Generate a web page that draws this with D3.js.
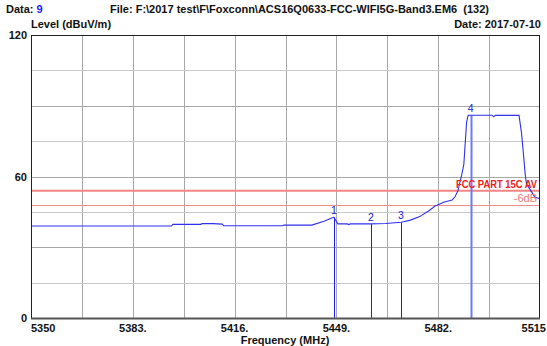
<!DOCTYPE html>
<html><head><meta charset="utf-8">
<script src="https://cdn.jsdelivr.net/npm/d3@7"></script>
<style>
body{margin:0;background:#fff;}
svg text{font-family:"Liberation Sans",Arial,sans-serif;font-weight:bold;font-size:11px;}
</style></head>
<body><svg id="c" width="547" height="346"></svg>
<script>
const traceFreq = [5350,5395.5,5396,5405,5405.5,5409,5412,5412.5,5431.5,5432,5441,5445,5447.5,5448.2,5449.5,5452.5,5453,5453.5,5460,5465,5470,5473,5476,5479,5481,5484,5486.5,5487.5,5488.4,5489.5,5490.3,5490.8,5491.2,5491.7,5499.5,5500,5500.5,5508.2,5509,5509.6,5510.2,5510.6,5512,5513.4,5515];
const traceLevel = [39.0,39.0,39.7,39.7,40.0,40.0,39.8,39.1,39.1,39.4,39.4,41.0,42.4,42.7,39.9,39.9,39.6,39.9,39.9,40.1,40.6,41.5,43.0,45.5,47.5,49.2,50.0,51.5,54,60,65,75,83,86.0,86.0,85.3,85.9,85.9,78.5,70,61,57,54,51.2,50.6];
const markerIds = ["1","2","3","4"];
const markerFreq = [5448.2,5460.2,5469.9,5492.5];
const markerLevel = [42.7,39.9,40.5,86.0];
const xTickLabels = ["5350","5383.","5416.","5449.","5482.","5515"];
const xTickValues = [5350,5383,5416,5449,5482,5515];
const xGridValues = d3.range(0,11).map(i=>5350+16.5*i);
const yTickLabels = ["120","60","0"];
const yTickValues = [120,60,0];
const yGridValues = d3.range(0,9).map(i=>i*15);
const limitNames = ["FCC PART 15C AV","-6dB"];
const limitValues = [54,48];

const svg = d3.select("#c");
const L=31, R=540, T=35, B=318;
const x = d3.scaleLinear().domain([5350,5515]).range([L,R]);
const y = d3.scaleLinear().domain([0,120]).range([B,T]);

// grid
svg.append("g").selectAll("line").data(xGridValues.slice(1,-1)).join("line")
  .attr("x1",d=>Math.round(x(d))+0.5).attr("x2",d=>Math.round(x(d))+0.5)
  .attr("y1",T).attr("y2",B).attr("stroke","#a8a8a8").attr("stroke-width",1);
svg.append("g").selectAll("line").data(yGridValues.slice(1,-1)).join("line")
  .attr("y1",d=>Math.round(y(d))+0.5).attr("y2",d=>Math.round(y(d))+0.5)
  .attr("x1",L).attr("x2",R).attr("stroke",(d,i)=>i%2?"#a8a8a8":"#c8c8c8").attr("stroke-width",1);

// limit lines
svg.append("line").attr("x1",L).attr("x2",R).attr("y1",y(limitValues[0])).attr("y2",y(limitValues[0]))
  .attr("stroke","#f38585").attr("stroke-width",2);
svg.append("line").attr("x1",L).attr("x2",R).attr("y1",Math.round(y(limitValues[1]))+0.5).attr("y2",Math.round(y(limitValues[1]))+0.5)
  .attr("stroke","#f08c8c").attr("stroke-width",1);

// marker lines
svg.append("g").selectAll("line").data(markerFreq).join("line")
  .attr("x1",d=>Math.round(x(d))+0.5).attr("x2",d=>Math.round(x(d))+0.5)
  .attr("y1",(d,i)=>y(markerLevel[i])).attr("y2",B)
  .attr("stroke",(d,i)=>i===3?"#6b78ff":"#1c1cf0").attr("stroke-width",(d,i)=>i===3?2:1);

// trace
const pts = traceFreq.map((f,i)=>[f,traceLevel[i]]);
svg.append("path").datum(pts)
  .attr("d",d3.line().x(d=>x(d[0])).y(d=>y(d[1])))
  .attr("fill","none").attr("stroke","#3030ee").attr("stroke-width",1.1);

// marker labels
svg.append("g").selectAll("text").data(markerIds).join("text")
  .attr("x",(d,i)=>x(markerFreq[i])).attr("y",(d,i)=>y(markerLevel[i])-3)
  .attr("text-anchor","middle").attr("fill","#2020d0")
  .style("font-weight","normal").style("font-size","10.5px").text(d=>d);

// limit labels
svg.append("text").attr("x",537).attr("y",y(limitValues[0])-3).attr("text-anchor","end")
  .attr("fill","#ee2020").style("font-size","11px")
  .attr("textLength",81).attr("lengthAdjust","spacingAndGlyphs").text(limitNames[0]);
svg.append("text").attr("x",537).attr("y",y(limitValues[1])-3).attr("text-anchor","end")
  .attr("fill","#f07878").style("font-weight","normal").style("font-size","11px").text(limitNames[1]);

// frame
svg.append("rect").attr("x",L+0.5).attr("y",T+0.5).attr("width",R-L-1).attr("height",B-T)
  .attr("fill","none").attr("stroke","#222").attr("stroke-width",1);
svg.append("line").attr("x1",L).attr("x2",R).attr("y1",B+0.5).attr("y2",B+0.5).attr("stroke","#555").attr("stroke-width",2);

// y labels
svg.append("g").selectAll("text").data(yTickValues).join("text")
  .attr("x",27).attr("y",d=>y(d)+4).attr("text-anchor","end").attr("fill","#111")
  .text((d,i)=>yTickLabels[i]);

// x labels
const nX = xTickValues.length;
svg.append("g").selectAll("text").data(xTickValues).join("text")
  .attr("x",(d,i)=>i===nX-1?546:x(d)).attr("y",332)
  .attr("text-anchor",(d,i)=>i===0?"start":(i===nX-1?"end":"middle"))
  .attr("fill","#111").text((d,i)=>xTickLabels[i]);

svg.append("text").attr("x",285).attr("y",344).attr("text-anchor","middle").attr("fill","#111").text("Frequency (MHz)");
svg.append("text").attr("x",L).attr("y",28).attr("fill","#111").text("Level (dBuV/m)");
svg.append("text").attr("x",541).attr("y",28).attr("text-anchor","end").attr("fill","#111").text("Date: 2017-07-10");
const dt = svg.append("text").attr("x",6).attr("y",13).attr("fill","#111");
dt.append("tspan").text("Data: ");
dt.append("tspan").attr("fill","#1a1aff").text("9");
svg.append("text").attr("x",110).attr("y",13).attr("fill","#111").attr("xml:space","preserve")
  .text("File: F:\\2017 test\\F\\Foxconn\\ACS16Q0633-FCC-WIFI5G-Band3.EM6  (132)");
</script></body></html>
